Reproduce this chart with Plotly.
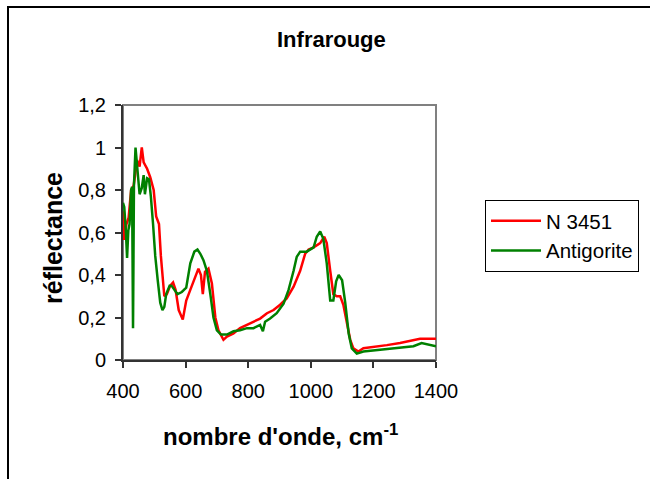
import plotly.graph_objects as go

# N 3451 (red)
wn_red = [400, 404, 411, 418, 426, 434, 445, 453, 460, 466, 477, 487, 498, 506, 515, 521,
          532, 540, 551, 560, 568, 578, 591, 602, 615, 631, 641, 649, 655, 662, 673, 684,
          695, 705, 721, 732, 753, 774, 796, 817, 838, 860, 881, 902, 923, 945, 966, 982,
          993, 1009, 1030, 1043, 1051, 1062, 1072, 1083, 1094, 1104, 1115, 1126, 1136,
          1152, 1168, 1200, 1243, 1285, 1328, 1349, 1400]
refl_red = [0.70, 0.565, 0.64, 0.67, 0.80, 0.82, 0.94, 0.91, 1.00, 0.93, 0.90, 0.86, 0.80,
            0.675, 0.64, 0.49, 0.30, 0.31, 0.35, 0.365, 0.33, 0.235, 0.19, 0.28, 0.33, 0.39,
            0.43, 0.40, 0.31, 0.415, 0.43, 0.36, 0.20, 0.14, 0.095, 0.11, 0.125, 0.15, 0.165,
            0.18, 0.195, 0.22, 0.235, 0.26, 0.29, 0.345, 0.42, 0.50, 0.52, 0.53, 0.55, 0.58,
            0.55, 0.42, 0.31, 0.30, 0.30, 0.26, 0.17, 0.095, 0.055, 0.04, 0.055, 0.06, 0.07,
            0.08, 0.095, 0.10, 0.10]

# Antigorite (green)
wn_green = [400, 404, 409, 413, 417, 421, 426, 429, 432, 435, 440, 447, 453, 460, 466, 470,
            477, 483, 489, 496, 503, 511, 519, 526, 532, 538, 549, 555, 564, 574, 588, 602,
            615, 628, 638, 647, 657, 668, 679, 689, 700, 713, 732, 753, 774, 796, 817, 838,
            847, 854, 870, 891, 913, 929, 945, 955, 966, 987, 1009, 1019, 1030, 1040, 1051,
            1062, 1072, 1081, 1089, 1100, 1110, 1121, 1131, 1147, 1168, 1200, 1243, 1285,
            1328, 1354, 1400]
refl_green = [0.74, 0.72, 0.61, 0.48, 0.61, 0.64, 0.80, 0.815, 0.15, 0.82, 1.00, 0.86, 0.78,
              0.81, 0.87, 0.78, 0.855, 0.85, 0.77, 0.64, 0.49, 0.375, 0.27, 0.235, 0.25, 0.31,
              0.35, 0.35, 0.33, 0.31, 0.32, 0.34, 0.455, 0.51, 0.52, 0.50, 0.47, 0.42, 0.31,
              0.20, 0.14, 0.12, 0.12, 0.135, 0.14, 0.15, 0.15, 0.165, 0.135, 0.18, 0.195, 0.22,
              0.265, 0.33, 0.42, 0.485, 0.51, 0.51, 0.53, 0.58, 0.605, 0.57, 0.455, 0.28, 0.28,
              0.37, 0.40, 0.375, 0.27, 0.125, 0.055, 0.03, 0.04, 0.045, 0.055, 0.06, 0.065,
              0.08, 0.065]

x_ticks = [400, 600, 800, 1000, 1200, 1400]
y_ticks = [0, 0.2, 0.4, 0.6, 0.8, 1.0, 1.2]
y_tick_text = ["0", "0,2", "0,4", "0,6", "0,8", "1", "1,2"]

FONT = "Liberation Sans, Arial, sans-serif"

fig = go.Figure()
fig.add_trace(go.Scatter(x=wn_red, y=refl_red, mode="lines", name="N 3451",
                         line=dict(color="#FF0000", width=2.5)))
fig.add_trace(go.Scatter(x=wn_green, y=refl_green, mode="lines", name="Antigorite",
                         line=dict(color="#008000", width=2.5)))

L, R, T, B = 123, 436, 105, 360
W, H = 650, 479


def px(x):
    return (x - L) / (R - L)


def py(y):
    return (B - y) / (B - T)


fig.update_layout(
    width=W, height=H,
    margin=dict(l=L, r=W - R, t=T, b=H - B, autoexpand=False),
    paper_bgcolor="white", plot_bgcolor="white",
    font=dict(family=FONT, size=20, color="black"),
    showlegend=True,
    legend=dict(x=px(485), y=py(200), xanchor="left", yanchor="top",
                bordercolor="black", borderwidth=1, bgcolor="white",
                font=dict(size=20.5), tracegroupgap=0, itemwidth=50),
    xaxis=dict(range=[400, 1400], tickvals=x_ticks, ticks="outside", ticklen=6,
               tickcolor="#333333", tickwidth=1.5, showgrid=False, zeroline=False,
               showline=True, linecolor="#333333", linewidth=2,
               ticklabelstandoff=6, tickfont=dict(size=20)),
    yaxis=dict(range=[0, 1.2], tickvals=y_ticks, ticktext=y_tick_text, ticks="outside",
               ticklen=6, tickcolor="#333333", tickwidth=1.5, showgrid=False,
               zeroline=False, showline=True, linecolor="#333333", linewidth=2,
               ticklabelstandoff=5, tickfont=dict(size=20)),
    shapes=[
        dict(type="rect", xref="paper", yref="paper", x0=0, y0=0, x1=1, y1=1,
             line=dict(color="#808080", width=2), layer="below"),
        dict(type="rect", xref="paper", yref="paper", x0=px(8), y0=py(7), x1=px(700),
             y1=py(520), line=dict(color="black", width=2), layer="below"),
    ],
    annotations=[
        dict(text="<b>Infrarouge</b>", xref="paper", yref="paper", x=px(331), y=py(39),
             showarrow=False, font=dict(size=22), xanchor="center", yanchor="middle"),
        dict(text="<b>réflectance</b>", xref="paper", yref="paper", x=px(53), y=py(238),
             showarrow=False, font=dict(size=25), textangle=-90, xanchor="center",
             yanchor="middle"),
        dict(text="<b>nombre d'onde, cm<sup>-1</sup></b>", xref="paper", yref="paper",
             x=px(280), y=py(435), showarrow=False, font=dict(size=24),
             xanchor="center", yanchor="middle"),
    ],
)

fig.write_html("out.html")
